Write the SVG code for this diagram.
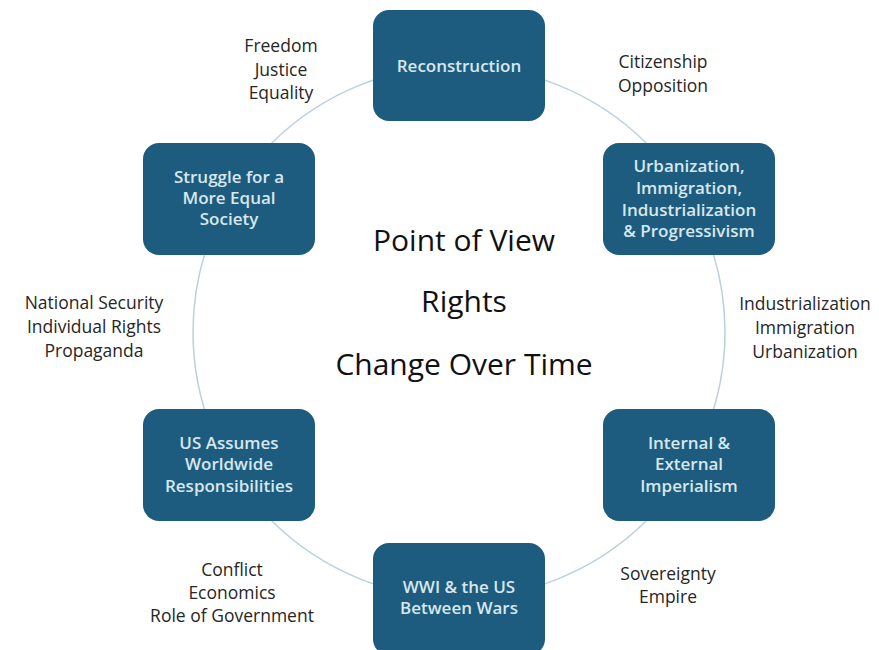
<svg xmlns="http://www.w3.org/2000/svg" width="879" height="650" viewBox="0 0 879 650">
<style>
.node{fill:#1d5c7e;}
.nt{font-family:"Open Sans","Liberation Sans",sans-serif;font-size:17px;font-weight:600;fill:#d8e7ee;text-anchor:middle;}
.lbl{font-family:"Open Sans","Liberation Sans",sans-serif;font-size:17.5px;fill:#262626;text-anchor:middle;}
.ctr{font-family:"Open Sans","Liberation Sans",sans-serif;font-size:30px;fill:#111;text-anchor:middle;}
.ring{fill:none;stroke:#bcd0dc;stroke-width:1.5;}
</style>
<rect width="879" height="650" fill="#ffffff"/>
<g id="connectors">
<circle class="ring" cx="459" cy="332" r="266"/>
</g>
<g id="n-reconstruction">
<rect class="node" x="373" y="10" width="172" height="111" rx="16"/>
<text class="nt" x="459" y="72">Reconstruction</text>
</g>
<g id="n-urbanization">
<rect class="node" x="603" y="143" width="172" height="112" rx="16"/>
<text class="nt" x="689" y="172">Urbanization,</text>
<text class="nt" x="689" y="194">Immigration,</text>
<text class="nt" x="689" y="216">Industrialization</text>
<text class="nt" x="689" y="237">&amp;  Progressivism</text>
</g>
<g id="n-imperialism">
<rect class="node" x="603" y="409" width="172" height="112" rx="16"/>
<text class="nt" x="689" y="449">Internal &amp;</text>
<text class="nt" x="689" y="470">External</text>
<text class="nt" x="689" y="492">Imperialism</text>
</g>
<g id="n-wwi">
<rect class="node" x="373" y="543" width="172" height="112" rx="16"/>
<text class="nt" x="459" y="593">WWI &amp; the US</text>
<text class="nt" x="459" y="614">Between Wars</text>
</g>
<g id="n-us-assumes">
<rect class="node" x="143" y="409" width="172" height="112" rx="16"/>
<text class="nt" x="229" y="449">US Assumes</text>
<text class="nt" x="229" y="470">Worldwide</text>
<text class="nt" x="229" y="492">Responsibilities</text>
</g>
<g id="n-struggle">
<rect class="node" x="143" y="143" width="172" height="112" rx="16"/>
<text class="nt" x="229" y="183">Struggle for a</text>
<text class="nt" x="229" y="204">More Equal</text>
<text class="nt" x="229" y="225">Society</text>
</g>
<g id="labels">
<text class="lbl" x="281" y="52">Freedom</text>
<text class="lbl" x="281" y="76">Justice</text>
<text class="lbl" x="281" y="99">Equality</text>
<text class="lbl" x="663" y="68">Citizenship</text>
<text class="lbl" x="663" y="92">Opposition</text>
<text class="lbl" x="805" y="310">Industrialization</text>
<text class="lbl" x="805" y="334">Immigration</text>
<text class="lbl" x="805" y="358">Urbanization</text>
<text class="lbl" x="668" y="580">Sovereignty</text>
<text class="lbl" x="668" y="603">Empire</text>
<text class="lbl" x="232" y="576">Conflict</text>
<text class="lbl" x="232" y="599">Economics</text>
<text class="lbl" x="232" y="622">Role of Government</text>
<text class="lbl" x="94" y="309">National Security</text>
<text class="lbl" x="94" y="333">Individual Rights</text>
<text class="lbl" x="94" y="357">Propaganda</text>
</g>
<g id="center">
<text class="ctr" x="464" y="251">Point of View</text>
<text class="ctr" x="464" y="312">Rights</text>
<text class="ctr" x="464" y="375">Change Over Time</text>
</g>
</svg>
